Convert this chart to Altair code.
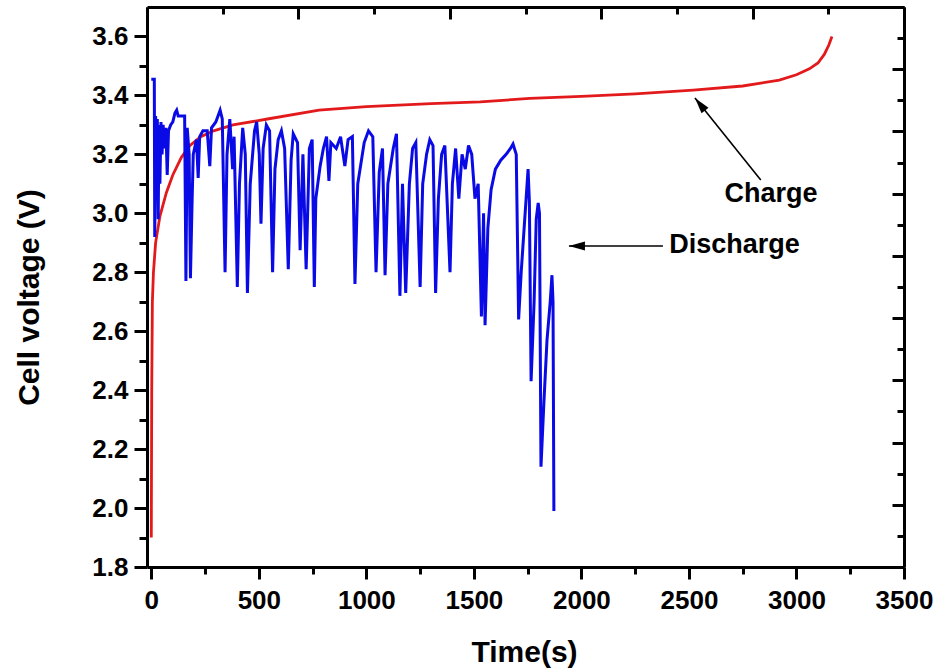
import altair as alt
import pandas as pd

# ---------------- data ----------------
charge_t = [0, 2, 5, 10, 20, 40, 70, 100, 140, 180, 230, 290, 380, 540, 780, 1000,
            1300, 1530, 1760, 2000, 2250, 2520, 2750, 2920, 3000, 3060, 3100, 3130, 3150, 3165]
charge_v = [1.90, 2.40, 2.70, 2.80, 2.90, 2.99, 3.07, 3.13, 3.19, 3.23, 3.26, 3.28, 3.30, 3.32, 3.35, 3.362,
            3.372, 3.378, 3.39, 3.397, 3.405, 3.418, 3.432, 3.452, 3.47, 3.49, 3.51, 3.54, 3.57, 3.60]

dis_t = [0, 14, 16, 20, 24, 28, 32, 36, 40, 45, 50, 55, 62, 68, 74, 80, 90, 100, 110, 118, 125, 155,
         161, 167, 176, 182, 190, 195, 210, 218, 225, 240, 260, 272, 280, 300, 320, 330, 343, 352, 365,
         378, 385, 400, 410, 425, 437, 447, 460, 480, 490, 502, 510, 520, 535, 550, 564, 575, 590, 605,
         620, 637, 650, 660, 680, 692, 705, 720, 735, 748, 758, 765, 785, 800, 815, 826, 835, 860, 880,
         900, 915, 935, 947, 960, 990, 1010, 1030, 1045, 1060, 1075, 1087, 1100, 1125, 1140, 1156, 1168,
         1183, 1200, 1215, 1230, 1250, 1262, 1280, 1295, 1310, 1322, 1335, 1350, 1365, 1389, 1400, 1415,
         1430, 1445, 1460, 1475, 1490, 1505, 1520, 1535, 1545, 1552, 1565, 1580, 1600, 1625, 1650, 1670,
         1682, 1697, 1708, 1720, 1752, 1758, 1766, 1780, 1790, 1799, 1805, 1812, 1825, 1840, 1855, 1863,
         1868, 1872]
dis_v = [3.455, 3.455, 2.92, 3.33, 3.05, 3.32, 2.98, 3.30, 3.10, 3.31, 3.20, 3.30, 3.22, 3.29, 3.13, 3.28,
         3.30, 3.31, 3.34, 3.35, 3.33, 3.33,
         2.77, 3.29, 3.20, 2.78, 3.05, 3.20, 3.25, 3.12, 3.26, 3.28, 3.28, 3.16, 3.29, 3.31, 3.35, 3.32,
         2.80, 3.20, 3.32,
         3.15, 3.26, 2.75, 3.10, 3.29, 3.20, 2.73, 3.10, 3.28, 3.31, 3.20, 2.965, 3.22, 3.30, 3.28, 2.80,
         3.15, 3.25, 3.28,
         3.22, 2.81, 3.18, 3.27, 3.24, 2.875, 3.20, 2.81, 3.22, 3.25, 2.75, 3.05, 3.16, 3.22, 3.26, 3.11,
         3.24, 3.22, 3.26,
         3.16, 3.25, 3.26, 2.76, 3.10, 3.24, 3.28, 3.26, 2.80, 3.14, 3.22, 2.79, 3.10, 3.22, 3.27, 2.72,
         3.10,
         2.73, 3.10, 3.22, 3.24, 2.75, 3.10, 3.20, 3.25, 3.23, 2.73, 3.05, 3.20, 3.23, 2.80, 3.10, 3.22,
         3.05, 3.20, 3.15, 3.23, 3.20, 3.05, 3.10, 2.65, 3.00, 2.62, 2.95, 3.08, 3.15, 3.18, 3.20, 3.22,
         3.235, 3.20, 2.64, 2.80, 3.15, 3.04, 2.43, 2.70, 2.98, 3.035, 3.00, 2.14, 2.35, 2.57, 2.70, 2.79,
         2.70, 1.99]

x_major = [0, 500, 1000, 1500, 2000, 2500, 3000, 3500]
x_minor = [250, 750, 1250, 1750, 2250, 2750, 3250]
y_major = [1.8, 2.0, 2.2, 2.4, 2.6, 2.8, 3.0, 3.2, 3.4, 3.6]
y_minor = [1.9, 2.1, 2.3, 2.5, 2.7, 2.9, 3.1, 3.3, 3.5]
top_major = [0, 1, 2, 3, 4, 5]
top_minor = [0.5, 1.5, 2.5, 3.5, 4.5]
right_major = [0, 1, 2, 3, 4, 5, 6, 7, 8, 9]
right_minor = [0.5, 1.5, 2.5, 3.5, 4.5, 5.5, 6.5, 7.5, 8.5]

ann_text = ["Charge", "Discharge"]
ann_t = [2882, 2712]
ann_v = [3.066, 2.8925]
arrow_t0 = [2834, 2379]
arrow_v0 = [3.113, 2.889]
arrow_t1 = [2528, 1942]
arrow_v1 = [3.391, 2.889]

# ---------------- layout ----------------
W, H = 757, 560
XDOM = [-20, 3500]
YDOM = [1.8, 3.7]
FONT = "Liberation Sans"

charge_df = pd.DataFrame({"t": charge_t, "v": charge_v})
dis_df = pd.DataFrame({"t": dis_t, "v": dis_v, "i": list(range(len(dis_t)))})
ann_df = pd.DataFrame({"label": ann_text, "t": ann_t, "v": ann_v})
arrow_df = pd.DataFrame({"t": arrow_t0, "v": arrow_v0, "t2": arrow_t1, "v2": arrow_v1})


def xsc():
    return alt.Scale(domain=XDOM, nice=False, zero=False)


def ysc():
    return alt.Scale(domain=YDOM, nice=False, zero=False)


base_axis = dict(domainColor="black", tickColor="black", domainWidth=3, tickWidth=3, grid=False)
tick_only = dict(tickColor="black", tickWidth=3, grid=False, domain=False, labels=False, title=None)

x_main_axis = alt.Axis(orient="bottom", values=x_major, tickSize=12, labelPadding=8,
                       labelFont=FONT, labelFontSize=26, labelFontWeight="bold", labelColor="black",
                       format="d", labelFlush=False, labelOverlap=False,
                       title="Time(s)", titleFont=FONT, titleFontSize=30, titleFontWeight="bold",
                       titleColor="black", titleX=377, titleY=85, titleBaseline="middle",
                       titleAlign="center", **base_axis)
y_main_axis = alt.Axis(orient="left", values=y_major, tickSize=13, labelPadding=6,
                       labelFont=FONT, labelFontSize=26, labelFontWeight="bold", labelColor="black",
                       format=".1f", labelFlush=False, labelOverlap=False,
                       title="Cell voltage (V)", titleFont=FONT, titleFontSize=30, titleFontWeight="bold",
                       titleColor="black", titleX=-118, titleY=290, titleAngle=270,
                       titleBaseline="middle", titleAlign="center", **base_axis)

charge_line = alt.Chart(charge_df).mark_line(color="#e31a1c", strokeWidth=2.8).encode(
    x=alt.X("t:Q", scale=xsc(), axis=x_main_axis),
    y=alt.Y("v:Q", scale=ysc(), axis=y_main_axis),
)

dis_line = alt.Chart(dis_df).mark_line(color="#0a0ae6", strokeWidth=3).encode(
    x=alt.X("t:Q", scale=xsc(), axis=None),
    y=alt.Y("v:Q", scale=ysc(), axis=None),
    order="i:Q",
)

minor_ticks = alt.Chart(charge_df).mark_point(opacity=0).encode(
    x=alt.X("t:Q", scale=xsc(), axis=alt.Axis(orient="bottom", values=x_minor, tickSize=7, **tick_only)),
    y=alt.Y("v:Q", scale=ysc(), axis=alt.Axis(orient="left", values=y_minor, tickSize=8, **tick_only)),
)

top_df = pd.DataFrame({"u": top_major})
top_major_axis = alt.Chart(top_df).mark_point(opacity=0).encode(
    x=alt.X("u:Q", scale=alt.Scale(domain=[0, 5], nice=False, zero=False),
            axis=alt.Axis(orient="bottom", offset=-H, values=top_major, tickSize=12, labels=False,
                          title=None, **base_axis)),
    y=alt.value(0),
)
top_minor_axis = alt.Chart(top_df).mark_point(opacity=0).encode(
    x=alt.X("u:Q", scale=alt.Scale(domain=[0, 5], nice=False, zero=False),
            axis=alt.Axis(orient="bottom", offset=-H, values=top_minor, tickSize=7, **tick_only)),
    y=alt.value(0),
)

right_df = pd.DataFrame({"w": right_major})
right_major_axis = alt.Chart(right_df).mark_point(opacity=0).encode(
    y=alt.Y("w:Q", scale=alt.Scale(domain=[0, 9], nice=False, zero=False),
            axis=alt.Axis(orient="left", offset=-W, values=right_major, tickSize=12, labels=False,
                          title=None, **base_axis)),
    x=alt.value(0),
)
right_minor_axis = alt.Chart(right_df).mark_point(opacity=0).encode(
    y=alt.Y("w:Q", scale=alt.Scale(domain=[0, 9], nice=False, zero=False),
            axis=alt.Axis(orient="left", offset=-W, values=right_minor, tickSize=7, **tick_only)),
    x=alt.value(0),
)

ann = alt.Chart(ann_df).mark_text(font=FONT, fontSize=27, fontWeight="bold", color="black",
                                  align="center", baseline="middle").encode(
    x=alt.X("t:Q", scale=xsc(), axis=None),
    y=alt.Y("v:Q", scale=ysc(), axis=None),
    text="label:N",
)

arrow_lines = alt.Chart(arrow_df).mark_rule(color="black", strokeWidth=1.6).encode(
    x=alt.X("t:Q", scale=xsc(), axis=None),
    y=alt.Y("v:Q", scale=ysc(), axis=None),
    x2="t2:Q",
    y2="v2:Q",
)

head_shape = "M0,0L-0.28,1L0.28,1Z"
head_charge = alt.Chart(arrow_df.iloc[[0]]).mark_point(
    shape=head_shape, size=1024, filled=True, color="black", opacity=1, angle=321, strokeWidth=0
).encode(
    x=alt.X("t2:Q", scale=xsc(), axis=None),
    y=alt.Y("v2:Q", scale=ysc(), axis=None),
)
head_dis = alt.Chart(arrow_df.iloc[[1]]).mark_point(
    shape=head_shape, size=1024, filled=True, color="black", opacity=1, angle=270, strokeWidth=0
).encode(
    x=alt.X("t2:Q", scale=xsc(), axis=None),
    y=alt.Y("v2:Q", scale=ysc(), axis=None),
)

chart = alt.layer(
    charge_line, dis_line, minor_ticks,
    top_major_axis, top_minor_axis, right_major_axis, right_minor_axis,
    arrow_lines, head_charge, head_dis, ann,
).resolve_scale(
    x="independent", y="independent"
).resolve_axis(
    x="independent", y="independent"
).properties(
    width=W, height=H,
    autosize=alt.AutoSizeParams(type="none"),
    padding={"left": 147, "top": 7, "right": 43, "bottom": 105},
    background="white",
).configure_view(stroke=None)

chart.save("out.html", embed_options={"renderer": "svg", "actions": False})
